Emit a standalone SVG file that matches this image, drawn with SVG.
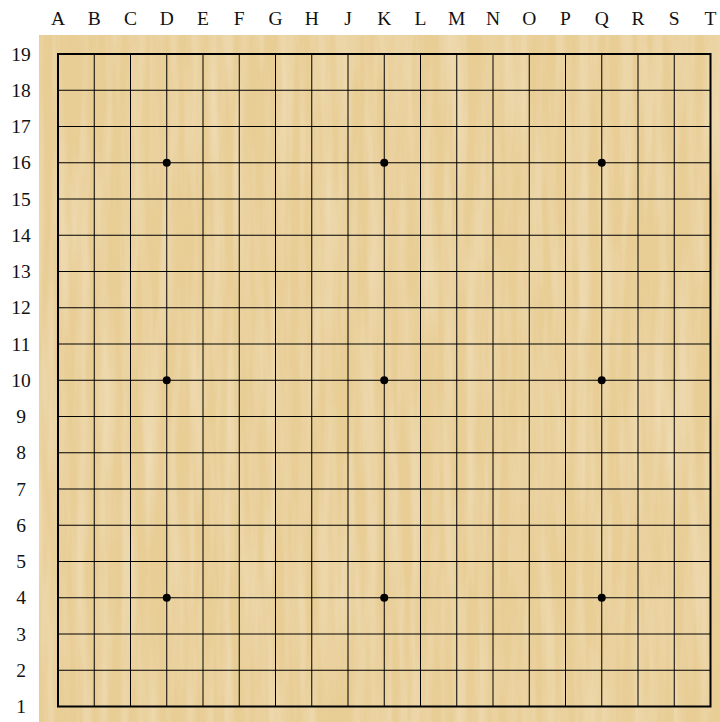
<svg xmlns="http://www.w3.org/2000/svg" width="720" height="722" viewBox="0 0 720 722">
<defs>
<style>
.lbl{font-family:"Liberation Serif","DejaVu Serif",serif;font-size:19.5px;fill:#111;}
.col{text-anchor:middle;}
.row{text-anchor:middle;dominant-baseline:central;}
.g{stroke:#000;stroke-width:1;fill:none;}
.star{fill:#000;}
</style>
<filter id="wood" x="0" y="0" width="100%" height="100%">
<feTurbulence type="fractalNoise" baseFrequency="0.09 0.006" numOctaves="3" seed="4" result="n"/>
<feColorMatrix in="n" type="matrix" values="0 0 0 0 1  0 0 0 0 0.97  0 0 0 0 0.85  0 0 0 0.5 -0.18" result="c"/>
<feComposite in="c" in2="SourceGraphic" operator="atop"/>
</filter>
</defs>
<rect width="720" height="722" fill="#fff"/>
<g id="board">
<rect x="39" y="35" width="681" height="687" fill="#E8CD95" filter="url(#wood)"/>
</g>
<g id="labels" class="lbl">
<text class="col" x="58" y="25">A</text>
<text class="col" x="94.25" y="25">B</text>
<text class="col" x="130.5" y="25">C</text>
<text class="col" x="166.75" y="25">D</text>
<text class="col" x="203" y="25">E</text>
<text class="col" x="239.25" y="25">F</text>
<text class="col" x="275.5" y="25">G</text>
<text class="col" x="311.75" y="25">H</text>
<text class="col" x="348" y="25">J</text>
<text class="col" x="384.25" y="25">K</text>
<text class="col" x="420.5" y="25">L</text>
<text class="col" x="456.75" y="25">M</text>
<text class="col" x="493" y="25">N</text>
<text class="col" x="529.25" y="25">O</text>
<text class="col" x="565.5" y="25">P</text>
<text class="col" x="601.75" y="25">Q</text>
<text class="col" x="638" y="25">R</text>
<text class="col" x="674.25" y="25">S</text>
<text class="col" x="710.5" y="25">T</text>
<text class="row" x="21" y="54">19</text>
<text class="row" x="21" y="90.25">18</text>
<text class="row" x="21" y="126.5">17</text>
<text class="row" x="21" y="162.75">16</text>
<text class="row" x="21" y="199">15</text>
<text class="row" x="21" y="235.25">14</text>
<text class="row" x="21" y="271.5">13</text>
<text class="row" x="21" y="307.75">12</text>
<text class="row" x="21" y="344">11</text>
<text class="row" x="21" y="380.25">10</text>
<text class="row" x="21" y="416.5">9</text>
<text class="row" x="21" y="452.75">8</text>
<text class="row" x="21" y="489">7</text>
<text class="row" x="21" y="525.25">6</text>
<text class="row" x="21" y="561.5">5</text>
<text class="row" x="21" y="597.75">4</text>
<text class="row" x="21" y="634">3</text>
<text class="row" x="21" y="670.25">2</text>
<text class="row" x="21" y="706.5">1</text>
</g>
<g id="grid" class="g">
<path d="M94.25 54V706.5M130.5 54V706.5M166.75 54V706.5M203 54V706.5M239.25 54V706.5M275.5 54V706.5M311.75 54V706.5M348 54V706.5M384.25 54V706.5M420.5 54V706.5M456.75 54V706.5M493 54V706.5M529.25 54V706.5M565.5 54V706.5M601.75 54V706.5M638 54V706.5M674.25 54V706.5"/>
<path d="M58 90.25H710.5M58 126.5H710.5M58 162.75H710.5M58 199H710.5M58 235.25H710.5M58 271.5H710.5M58 307.75H710.5M58 344H710.5M58 380.25H710.5M58 416.5H710.5M58 452.75H710.5M58 489H710.5M58 525.25H710.5M58 561.5H710.5M58 597.75H710.5M58 634H710.5M58 670.25H710.5"/>
<rect x="58" y="54" width="652.5" height="652.5" stroke-width="2"/>
</g>
<g id="stars" class="star">
<circle cx="166.75" cy="162.75" r="4"/>
<circle cx="384.25" cy="162.75" r="4"/>
<circle cx="601.75" cy="162.75" r="4"/>
<circle cx="166.75" cy="380.25" r="4"/>
<circle cx="384.25" cy="380.25" r="4"/>
<circle cx="601.75" cy="380.25" r="4"/>
<circle cx="166.75" cy="597.75" r="4"/>
<circle cx="384.25" cy="597.75" r="4"/>
<circle cx="601.75" cy="597.75" r="4"/>
</g>
</svg>
